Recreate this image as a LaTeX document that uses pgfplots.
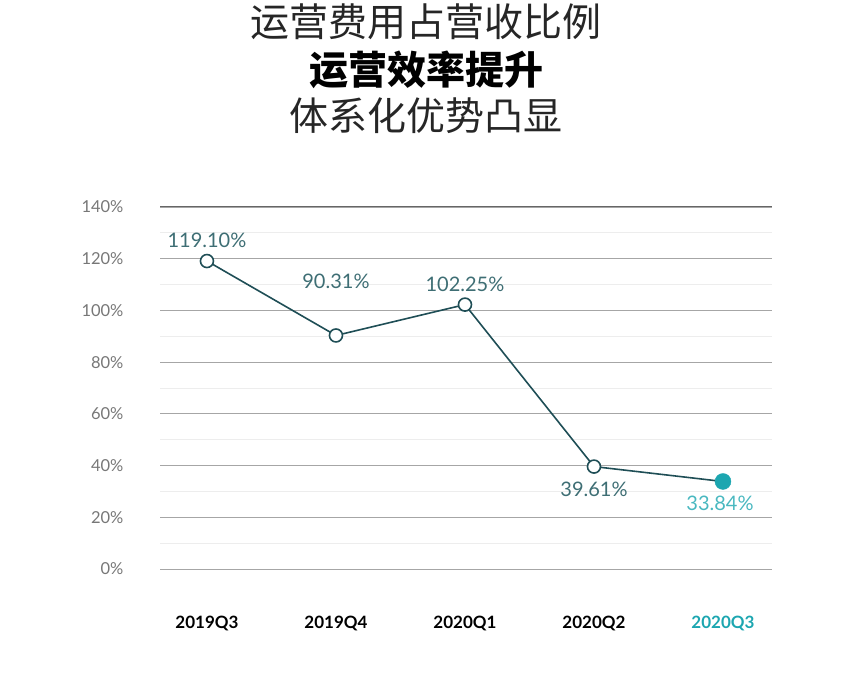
\documentclass[border=0pt]{standalone}
\usepackage{pgfplots}
\pgfplotsset{compat=1.18}
\usepackage{fontspec}
\setmainfont{Lato}
\newfontfamily\cjk{Noto Sans CJK SC}
\definecolor{linec}{HTML}{1F4E56}
\definecolor{labc}{HTML}{3E6E74}
\definecolor{tealc}{HTML}{1CA6B0}
\definecolor{tickc}{HTML}{777777}
\begin{document}
\begin{tikzpicture}[x=1pt,y=1pt]
\path[use as bounding box] (0,0) rectangle (852,676);
\node[font=\cjk\fontsize{39}{42}\selectfont, text=black!85] at (426,654) {运营费用占营收比例};
\node[font=\cjk\bfseries\fontsize{39}{42}\selectfont] at (426,606) {运营效率提升};
\node[font=\cjk\fontsize{39}{42}\selectfont, text=black!85] at (426,560) {体系化优势凸显};
\begin{axis}[
  at={(160pt,107pt)}, anchor=south west,
  scale only axis, width=612pt, height=362pt,
  xmin=-0.364, xmax=4.38, ymin=0, ymax=140,
  axis line style={draw=none},
  xtick={0,1,2,3,4},
  xticklabels={2019Q3,2019Q4,2020Q1,2020Q2,{\textcolor{tealc}{2020Q3}}},
  xticklabel style={font=\bfseries\fontsize{17}{20}\selectfont, yshift=-44pt},
  ytick={0,20,...,140},
  minor ytick={10,30,...,130},
  yticklabel={\pgfmathprintnumber[fixed,precision=0]{\tick}\%},
  yticklabel style={font=\fontsize{16.5}{19}\selectfont, text=tickc, xshift=-33pt},
  /pgf/number format/assume math mode=true,
  major tick length=0pt, minor tick length=0pt,
  ymajorgrids, yminorgrids,
  major grid style={draw=black!35, line width=0.8pt},
  minor grid style={draw=black!7, line width=0.8pt},
  clip=false,
]
\draw[black!60, line width=1pt] (axis cs:-0.364,140) -- (axis cs:4.38,140);
\addplot[linec, line width=1.6pt, mark=*, mark size=6.5pt, mark options={fill=white, draw=linec, line width=1.6pt}]
  coordinates {(0,119.10) (1,90.31) (2,102.25) (3,39.61)};
\addplot[linec, line width=1.6pt] coordinates {(3,39.61) (4,33.84)};
\addplot[only marks, mark=*, mark size=8pt, tealc] coordinates {(4,33.84)};
\begin{scope}[every node/.style={font=\fontsize{20}{23}\selectfont, text=labc}]
\node at (axis cs:0,119.10) [yshift=21pt] {119.10\%};
\node at (axis cs:1,90.31) [yshift=54pt] {90.31\%};
\node at (axis cs:2,102.25) [yshift=20pt] {102.25\%};
\node at (axis cs:3,39.61) [yshift=-23pt] {39.61\%};
\node[text=tealc!80] at (axis cs:4,33.84) [yshift=-22pt, xshift=-3pt] {33.84\%};
\end{scope}
\end{axis}
\end{tikzpicture}
\end{document}
